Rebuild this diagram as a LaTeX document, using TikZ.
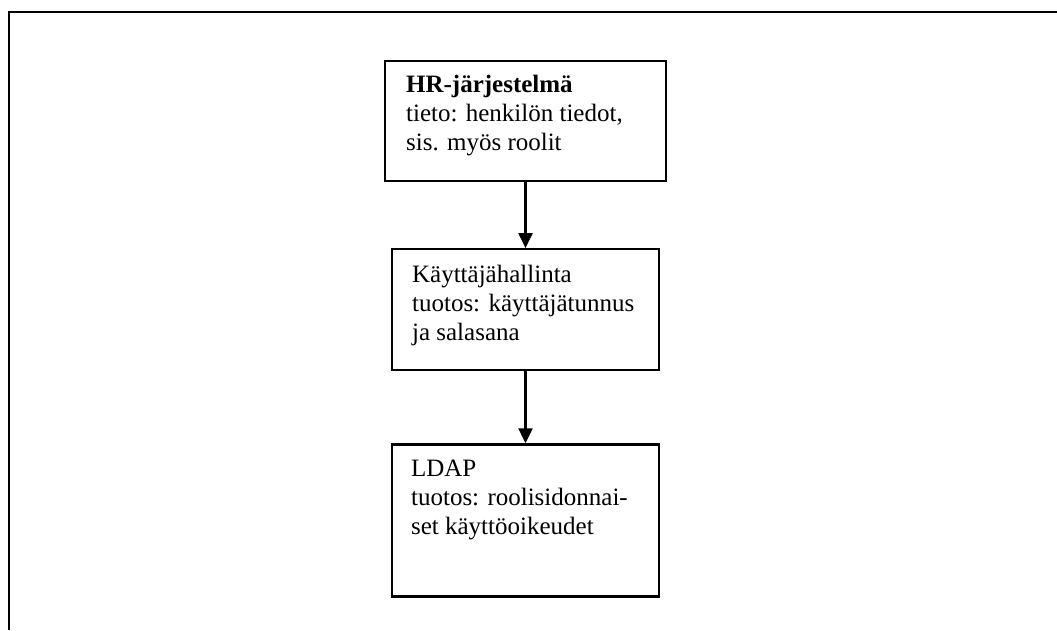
\documentclass[tikz,border=0pt]{standalone}
\usepackage{fontspec}
\setmainfont{Liberation Serif}
\usetikzlibrary{positioning,arrows.meta}

\tikzset{
  stage/.style={rectangle,draw=black,line width=2.2pt,minimum width=267pt,inner sep=0pt},
  stagetext/.style={anchor=base west,inner sep=0pt,align=left,font=\fontsize{25}{29}\selectfont},
  flow/.style={line width=2.2pt,-{Triangle[length=15pt,width=14pt]}}
}

\begin{document}
\begin{tikzpicture}[x=1pt,y=-1pt,node distance=66pt]
		\useasboundingbox (0,0) rectangle (1057,630);
		% frame
		\draw[line width=2.5pt] (1057,12) -- (9,12) -- (9,630);

		\node[stage,minimum width=281pt,minimum height=120pt] (hr) at (525.5,121) {};
		\node[stage,below = of hr,minimum height=121pt] (kh) {};
		\node[stage,below = 72pt of kh,minimum height=152pt] (ldap) {};

		% base of a multi-line node is its last line
		\node[stagetext] (hrtext) at ([xshift=22pt,yshift=-91pt]hr.north west) {\textbf{HR-järjestelmä}\\tieto: henkilön tiedot,\\sis. myös roolit};
		\node[stagetext] (khtext) at ([xshift=21pt,yshift=-92pt]kh.north west) {Käyttäjähallinta\\tuotos: käyttäjätunnus\\ja salasana};
		\node[stagetext] (ldaptext) at ([xshift=20pt,yshift=-91pt]ldap.north west) {LDAP\\tuotos: roolisidonnai-\\set käyttöoikeudet};

		\draw[flow] (hr) -- (kh);
		\draw[flow] (kh) -- (ldap);
	\end{tikzpicture}
\end{document}
